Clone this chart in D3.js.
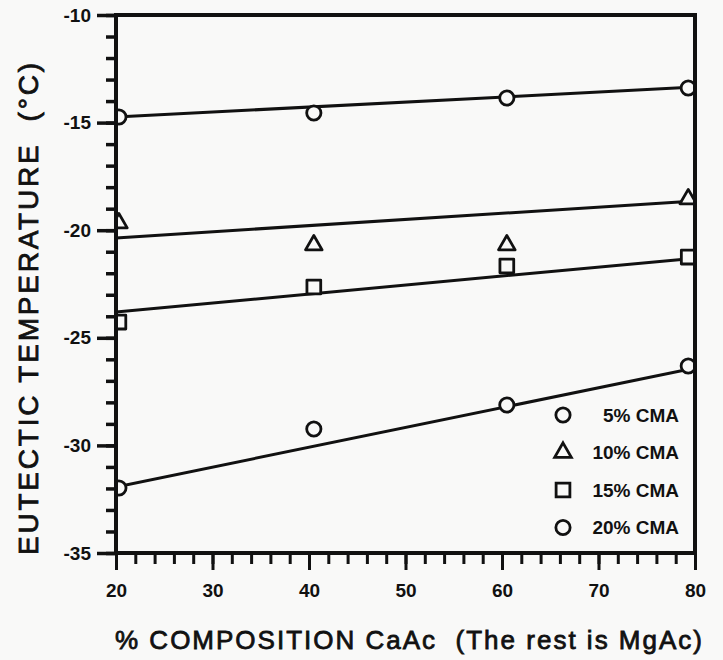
<!DOCTYPE html>
<html>
<head>
<meta charset="utf-8">
<script src="https://cdn.jsdelivr.net/npm/d3@7"></script>
<style>
  body { margin: 0; background: #f9f9f8; }
  svg { display: block; }
  text { font-family: "Liberation Sans", Arial, Helvetica, sans-serif; fill: #111; }
</style>
</head>
<body>
<div id="chart"></div>
<script>
// x positions (% CaAc) of the measured points
const composition = [20.3, 40.5, 60.5, 79.3];

// series labels and measured eutectic temperatures (°C)
const seriesNames = ["5% CMA", "10% CMA", "15% CMA", "20% CMA"];
const seriesShapes = ["circle", "triangle", "square", "circle"];
const cma5 = [-14.74, -14.55, -13.86, -13.39];
const cma10 = [-19.67, -20.69, -20.69, -18.55];
const cma15 = [-24.27, -22.64, -21.66, -21.25];
const cma20 = [-31.98, -29.24, -28.12, -26.31];

// fitted lines: value at x=20 and at x=80
const fitStart = [-14.74, -20.36, -23.8, -31.93];
const fitEnd = [-13.35, -18.64, -21.3, -26.4];

// axis ticks
const xTicks = [20, 30, 40, 50, 60, 70, 80];
const yTicks = [-10, -15, -20, -25, -30, -35];

const values = [cma5, cma10, cma15, cma20];

const width = 723, height = 660;
const margin = {top: 15, right: 28, bottom: 107, left: 116};
const innerW = width - margin.left - margin.right;   // 579
const innerH = height - margin.top - margin.bottom;  // 538

const svg = d3.select("#chart").append("svg")
    .attr("width", width)
    .attr("height", height);

const x = d3.scaleLinear().domain([20, 80]).range([margin.left, margin.left + innerW]);
const y = d3.scaleLinear().domain([-35, -10]).range([margin.top + innerH, margin.top]);

svg.append("clipPath").attr("id", "plotclip")
  .append("rect")
    .attr("x", margin.left).attr("y", margin.top)
    .attr("width", innerW).attr("height", innerH);

// minor ticks
svg.append("g")
    .attr("transform", "translate(" + margin.left + ",0)")
    .call(d3.axisLeft(y).tickValues(d3.range(-35, -9, 1)).tickSize(10).tickFormat(""))
    .call(g => g.select(".domain").remove())
    .call(g => g.selectAll("line").attr("stroke", "#111").attr("stroke-width", 3.5));

svg.append("g")
    .attr("transform", "translate(0," + (margin.top + innerH) + ")")
    .call(d3.axisBottom(x).tickValues(d3.range(20, 81, 2)).tickSize(11).tickFormat(""))
    .call(g => g.select(".domain").remove())
    .call(g => g.selectAll("line").attr("stroke", "#111").attr("stroke-width", 3));

// major ticks and labels
svg.append("g")
    .attr("transform", "translate(" + margin.left + ",0)")
    .call(d3.axisLeft(y).tickValues(yTicks).tickSize(19).tickPadding(6).tickFormat(d => d))
    .call(g => g.select(".domain").remove())
    .call(g => g.selectAll("line").attr("stroke", "#111").attr("stroke-width", 3.5))
    .call(g => g.selectAll("text")
        .style("font-size", "19px").style("font-weight", "bold").attr("fill", "#111"));

svg.append("g")
    .attr("transform", "translate(0," + (margin.top + innerH) + ")")
    .call(d3.axisBottom(x).tickValues(xTicks).tickSize(17).tickPadding(14).tickFormat(d => d))
    .call(g => g.select(".domain").remove())
    .call(g => g.selectAll("line").attr("stroke", "#111").attr("stroke-width", 3))
    .call(g => g.selectAll("text")
        .style("font-size", "19px").style("font-weight", "bold").attr("fill", "#111"));

// fitted lines
const plot = svg.append("g").attr("clip-path", "url(#plotclip)");

plot.selectAll(".fit")
    .data(seriesNames)
    .enter().append("line")
    .attr("class", "fit")
    .attr("x1", x(20)).attr("x2", x(80))
    .attr("y1", (d, i) => y(fitStart[i]))
    .attr("y2", (d, i) => y(fitEnd[i]))
    .attr("stroke", "#111")
    .attr("stroke-width", 3);

const symbolFor = {
  circle: d3.symbol().type(d3.symbolCircle).size(160),
  triangle: d3.symbol().type(d3.symbolTriangle).size(120),
  square: d3.symbol().type(d3.symbolSquare).size(190)
};

const points = [];
values.forEach((vals, i) => {
  vals.forEach((v, j) => points.push({s: i, x: composition[j], v: v}));
});

plot.selectAll(".pt")
    .data(points)
    .enter().append("path")
    .attr("class", "pt")
    .attr("transform", d => "translate(" + x(d.x) + "," + y(d.v) + ")")
    .attr("d", d => symbolFor[seriesShapes[d.s]]())
    .attr("fill", "#f9f9f8")
    .attr("stroke", "#111")
    .attr("stroke-width", 2.8)
    .attr("stroke-linejoin", "round");

// frame
svg.append("rect")
    .attr("x", margin.left).attr("y", margin.top)
    .attr("width", innerW).attr("height", innerH)
    .attr("fill", "none")
    .attr("stroke", "#111")
    .attr("stroke-width", 4);

// legend
const legend = svg.selectAll(".legend")
    .data(seriesNames)
    .enter().append("g")
    .attr("class", "legend")
    .attr("transform", (d, i) => "translate(0," + (415 + i * 37.5) + ")");

legend.append("path")
    .attr("transform", "translate(563,0)")
    .attr("d", (d, i) => symbolFor[seriesShapes[i]]())
    .attr("fill", "none")
    .attr("stroke", "#111")
    .attr("stroke-width", 2.8);

legend.append("text")
    .attr("x", 679)
    .attr("dy", "0.36em")
    .style("text-anchor", "end")
    .style("font-size", "19px")
    .style("font-weight", "bold")
    .text(d => d);

// axis titles
svg.append("text")
    .attr("x", 115)
    .attr("y", 649)
    .attr("textLength", 587)
    .attr("lengthAdjust", "spacing")
    .style("font-size", "26px")
    .style("white-space", "pre")
    .attr("stroke", "#111")
    .attr("stroke-width", 0.8)
    .text("% COMPOSITION CaAc  (The rest is MgAc)");

svg.append("text")
    .attr("transform", "translate(38,555) rotate(-90)")
    .attr("textLength", 492)
    .attr("lengthAdjust", "spacing")
    .style("font-size", "28px")
    .style("white-space", "pre")
    .attr("stroke", "#111")
    .attr("stroke-width", 0.8)
    .text("EUTECTIC TEMPERATURE  (°C)");
</script>
</body>
</html>
